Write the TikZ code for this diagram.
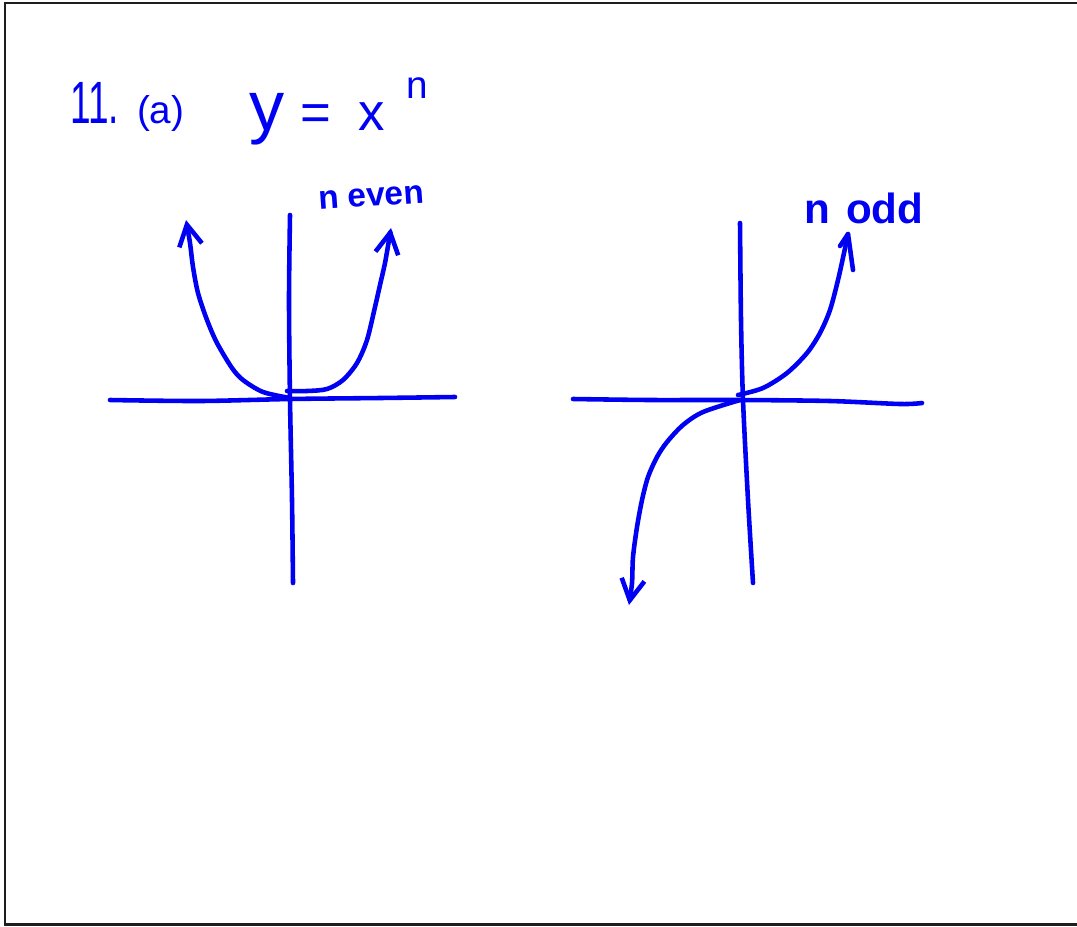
\documentclass[tikz,border=0pt]{standalone}
\usepackage{fontspec}
\setmainfont{Liberation Sans}
\usepackage{xcolor}
\usepackage{graphicx}
\usepackage{tikz}
\usetikzlibrary{arrows.meta,positioning}
\definecolor{InkBlue}  {HTML}{0000F2}
\definecolor{FrameGray}{HTML}{1E1E1E}

\begin{document}
\begin{tikzpicture}[x=0.02cm,y=-0.02cm,
    ink/.style={draw=InkBlue,line width=2.6pt,line cap=round,line join=round},
    barb/.style={-{Straight Barb[length=4.2mm,width=4.6mm,line width=2.6pt]}},
    hand/.style={text=InkBlue,inner sep=0pt}]
    \useasboundingbox (0,0) rectangle (1077,926);
    % frame
    \draw[FrameGray,line width=1.7pt] (1077,3) -- (5,3) -- (5,924) -- (1077,924);

    % heading
    \node[hand,font=\fontsize{34}{34}\selectfont,anchor=base west] (title) at (70,123)
        {\scalebox{0.62}[1]{11.}\hspace{0.36cm}{\fontsize{22}{22}\selectfont(a)}};
    \node[hand,font=\fontsize{30}{30}\selectfont,anchor=base west] (eq) at (249,130)
        {{\fontsize{40}{40}\selectfont y}\hspace{0.32cm}=\hspace{0.54cm}x};
    \node[hand,font=\fontsize{22}{22}\selectfont,anchor=base west] (pow) at (406,98) {n};

    % n even
    \node[hand,font=\fontsize{19}{19}\selectfont\bfseries,anchor=base west,rotate=4] (neven) at (319,210) {n even};
    \draw[ink] plot[smooth] coordinates {(110,400) (200,401) (290,399) (380,398) (455,397)};
    \draw[ink] plot[smooth] coordinates {(290,215) (289,300) (290,400) (292,500) (293,583)};
    \draw[ink,barb] plot[smooth,tension=0.5] coordinates {(290,398) (263,392) (243,380) (232,368) (217,343)
        (207,320) (198,293) (193,267) (190,243) (186,220)};
    \draw[ink,barb] plot[smooth,tension=0.5] coordinates {(287,391) (307,391) (327,389) (343,380) (357,363)
        (367,340) (375,307) (380,285) (385,263) (389,240) (391,228)};

    % n odd
    \node[hand,font=\fontsize{24}{24}\selectfont\bfseries,anchor=base west] (nodd) at (804,223) {n\hspace{0.32cm}odd};
    \draw[ink] plot[smooth] coordinates {(573,399) (650,400) (740,400) (830,401) (900,404) (922,403)};
    \draw[ink] plot[smooth] coordinates {(740,223) (741,320) (743,400) (748,500) (753,583)};
    \draw[ink,barb] plot[smooth,tension=0.5] coordinates {(740,400) (703,412) (683,425) (667,442) (657,457)
        (648,477) (642,500) (637,527) (633,557) (632,583) (629,605)};
    \draw[ink] plot[smooth,tension=0.5] coordinates {(738,395) (763,388) (787,373) (807,353) (820,333)
        (830,310) (838,280) (844,253) (848,234)};
    \coordinate (tip) at (848,234);
    \coordinate (lbarb) at (840,246);
    \coordinate (tail) at (853,270);
    \draw[ink] (lbarb) -- (tip) -- (tail);
\end{tikzpicture}
\end{document}
